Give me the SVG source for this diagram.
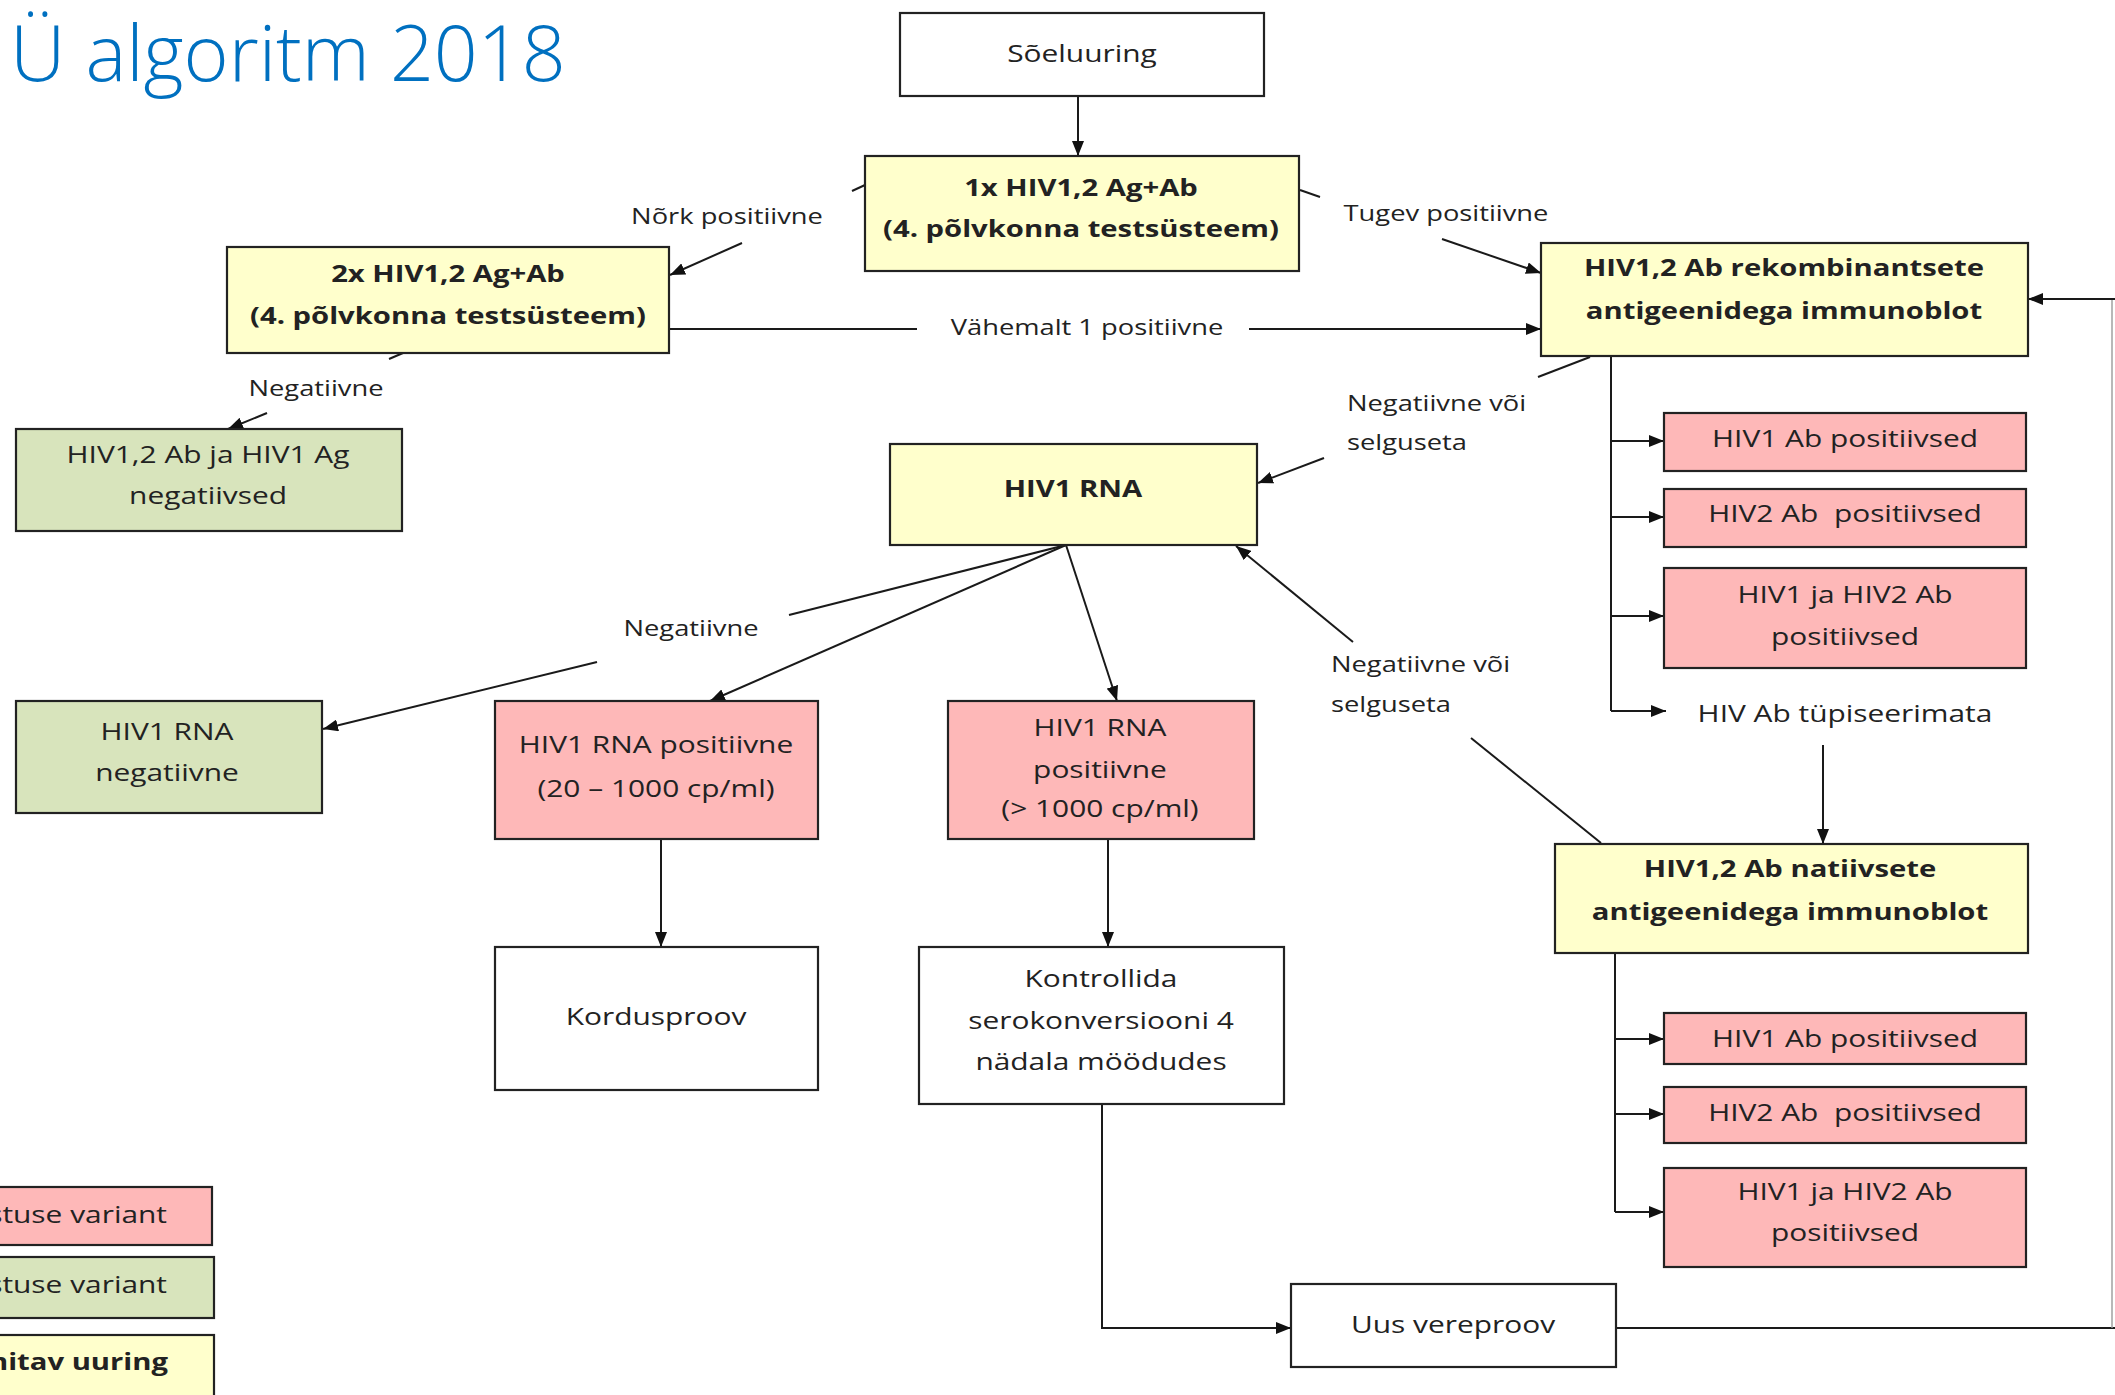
<svg xmlns="http://www.w3.org/2000/svg" width="2115" height="1395" viewBox="0 0 2115 1395">
<defs>
<marker id="ah" markerUnits="userSpaceOnUse" markerWidth="16" markerHeight="12" refX="15" refY="6" orient="auto">
<path d="M0,0 L15,6 L0,12 z" fill="#111"/>
</marker>
<style>
.box{stroke:#222;stroke-width:2.2}
.w{fill:#fff}
.y{fill:#ffffcc}
.p{fill:#feb8b8}
.g{fill:#d8e4bc}
.t{font-family:"Open Sans","Noto Sans","DejaVu Sans",sans-serif;font-size:23px;fill:#222;text-anchor:middle}
.b{font-weight:700;font-size:22.5px}
.l{font-size:21px}
.s{text-anchor:start}
.e{text-anchor:end}
.c{stroke:#1a1a1a;stroke-width:2;fill:none}
.a{marker-end:url(#ah)}
</style>
</defs>
<rect width="2115" height="1395" fill="#fff"/>
<text x="10" y="81" font-family="'Open Sans','Noto Sans',sans-serif" font-weight="300" font-size="77" fill="#0070c0">Ü algoritm 2018</text>

<g id="legend">
<g id="legend-pink"><rect class="box p" x="-10" y="1187" width="222" height="58"/><text class="t e" transform="matrix(1.3 0 0 1 167 0)" y="1223">stuse variant</text></g>
<g id="legend-green"><rect class="box g" x="-10" y="1257" width="224" height="61"/><text class="t e" transform="matrix(1.3 0 0 1 167 0)" y="1293">stuse variant</text></g>
<g id="legend-yellow"><rect class="box y" x="-10" y="1335" width="224" height="70"/><text class="t b e" transform="matrix(1.3 0 0 1 168 0)" y="1370">nitav uuring</text></g>
</g>

<g id="connectors">
<line class="c a" x1="1078" y1="96" x2="1078" y2="156"/>
<line class="c" x1="865" y1="185" x2="852" y2="191"/>
<line class="c a" x1="742" y1="243" x2="670" y2="275"/>
<line class="c" x1="1300" y1="190" x2="1320" y2="197"/>
<line class="c a" x1="1442" y1="239" x2="1541" y2="273"/>
<line class="c" x1="669" y1="329" x2="917" y2="329"/>
<line class="c a" x1="1249" y1="329" x2="1541" y2="329"/>
<line class="c" x1="403" y1="353" x2="389" y2="359"/>
<line class="c a" x1="267" y1="413" x2="228" y2="429"/>
<line class="c" x1="1590" y1="357" x2="1538" y2="377"/>
<line class="c a" x1="1324" y1="458" x2="1258" y2="483"/>
<path class="c" d="M1611,356 V711"/>
<line class="c a" x1="1611" y1="441" x2="1664" y2="441"/>
<line class="c a" x1="1611" y1="517" x2="1664" y2="517"/>
<line class="c a" x1="1611" y1="616" x2="1664" y2="616"/>
<line class="c a" x1="1611" y1="711" x2="1666" y2="711"/>
<line class="c a" x1="1823" y1="745" x2="1823" y2="844"/>
<line class="c" x1="1601" y1="843" x2="1471" y2="738"/>
<line class="c a" x1="1353" y1="642" x2="1236" y2="546"/>
<path class="c" d="M1615,953 V1212"/>
<line class="c a" x1="1615" y1="1039" x2="1664" y2="1039"/>
<line class="c a" x1="1615" y1="1114" x2="1664" y2="1114"/>
<line class="c a" x1="1615" y1="1212" x2="1664" y2="1212"/>
<line class="c" x1="1066" y1="545" x2="789" y2="615"/>
<line class="c a" x1="597" y1="662" x2="323" y2="729"/>
<line class="c a" x1="1066" y1="545" x2="710" y2="701"/>
<line class="c a" x1="1066" y1="545" x2="1117" y2="701"/>
<line class="c a" x1="661" y1="839" x2="661" y2="947"/>
<line class="c a" x1="1108" y1="839" x2="1108" y2="947"/>
<path class="c a" d="M1102,1104 V1328 H1291"/>
<path class="c" d="M1616,1328 H2115"/>
<path d="M2112,1328 V299" stroke="#9a9a9a" stroke-width="1.4" fill="none"/>
<path class="c a" d="M2115,299 H2028"/>
<text class="t l" transform="matrix(1.3 0 0 1 727 0)" y="224">Nõrk positiivne</text>
<text class="t l" transform="matrix(1.3 0 0 1 1446 0)" y="221">Tugev positiivne</text>
<text class="t l" transform="matrix(1.3 0 0 1 1087 0)" y="335">Vähemalt 1 positiivne</text>
<text class="t l" transform="matrix(1.3 0 0 1 316 0)" y="396">Negatiivne</text>
<text class="t l s" transform="matrix(1.3 0 0 1 1347 0)" y="411">Negatiivne või</text>
<text class="t l s" transform="matrix(1.3 0 0 1 1347 0)" y="450">selguseta</text>
<text class="t l s" transform="matrix(1.3 0 0 1 1331 0)" y="672">Negatiivne või</text>
<text class="t l s" transform="matrix(1.3 0 0 1 1331 0)" y="712">selguseta</text>
<text class="t l" transform="matrix(1.3 0 0 1 691 0)" y="636">Negatiivne</text>
</g>

<g id="soeluuring"><rect class="box w" x="900" y="13" width="364" height="83"/><text class="t" transform="matrix(1.3 0 0 1 1082 0)" y="62">Sõeluuring</text></g>
<g id="test1x"><rect class="box y" x="865" y="156" width="434" height="115"/><text class="t b" transform="matrix(1.3 0 0 1 1081 0)" y="196">1x HIV1,2 Ag+Ab</text><text class="t b" transform="matrix(1.3 0 0 1 1081 0)" y="237">(4. põlvkonna testsüsteem)</text></g>
<g id="test2x"><rect class="box y" x="227" y="247" width="442" height="106"/><text class="t b" transform="matrix(1.3 0 0 1 448 0)" y="282">2x HIV1,2 Ag+Ab</text><text class="t b" transform="matrix(1.3 0 0 1 448 0)" y="324">(4. põlvkonna testsüsteem)</text></g>
<g id="rekomb"><rect class="box y" x="1541" y="243" width="487" height="113"/><text class="t b" transform="matrix(1.3 0 0 1 1784 0)" y="276">HIV1,2 Ab rekombinantsete</text><text class="t b" transform="matrix(1.3 0 0 1 1784 0)" y="319">antigeenidega immunoblot</text></g>
<g id="neg1"><rect class="box g" x="16" y="429" width="386" height="102"/><text class="t" transform="matrix(1.3 0 0 1 208 0)" y="463">HIV1,2 Ab ja HIV1 Ag</text><text class="t" transform="matrix(1.3 0 0 1 208 0)" y="504">negatiivsed</text></g>
<g id="rna"><rect class="box y" x="890" y="444" width="367" height="101"/><text class="t b" transform="matrix(1.3 0 0 1 1073 0)" y="497">HIV1 RNA</text></g>
<g id="ib1-hiv1"><rect class="box p" x="1664" y="413" width="362" height="58"/><text class="t" transform="matrix(1.3 0 0 1 1845 0)" y="447">HIV1 Ab positiivsed</text></g>
<g id="ib1-hiv2"><rect class="box p" x="1664" y="489" width="362" height="58"/><text class="t" xml:space="preserve" transform="matrix(1.3 0 0 1 1845 0)" y="522">HIV2 Ab  positiivsed</text></g>
<g id="ib1-both"><rect class="box p" x="1664" y="568" width="362" height="100"/><text class="t" transform="matrix(1.3 0 0 1 1845 0)" y="603">HIV1 ja HIV2 Ab</text><text class="t" transform="matrix(1.3 0 0 1 1845 0)" y="645">positiivsed</text></g>
<g id="untyped"><text class="t" transform="matrix(1.3 0 0 1 1845 0)" y="722">HIV Ab tüpiseerimata</text></g>
<g id="nativ"><rect class="box y" x="1555" y="844" width="473" height="109"/><text class="t b" transform="matrix(1.3 0 0 1 1790 0)" y="877">HIV1,2 Ab natiivsete</text><text class="t b" transform="matrix(1.3 0 0 1 1790 0)" y="920">antigeenidega immunoblot</text></g>
<g id="ib2-hiv1"><rect class="box p" x="1664" y="1013" width="362" height="51"/><text class="t" transform="matrix(1.3 0 0 1 1845 0)" y="1047">HIV1 Ab positiivsed</text></g>
<g id="ib2-hiv2"><rect class="box p" x="1664" y="1087" width="362" height="56"/><text class="t" xml:space="preserve" transform="matrix(1.3 0 0 1 1845 0)" y="1121">HIV2 Ab  positiivsed</text></g>
<g id="ib2-both"><rect class="box p" x="1664" y="1168" width="362" height="99"/><text class="t" transform="matrix(1.3 0 0 1 1845 0)" y="1200">HIV1 ja HIV2 Ab</text><text class="t" transform="matrix(1.3 0 0 1 1845 0)" y="1241">positiivsed</text></g>
<g id="rna-neg"><rect class="box g" x="16" y="701" width="306" height="112"/><text class="t" transform="matrix(1.3 0 0 1 167 0)" y="740">HIV1 RNA</text><text class="t" transform="matrix(1.3 0 0 1 167 0)" y="781">negatiivne</text></g>
<g id="rna-pos-low"><rect class="box p" x="495" y="701" width="323" height="138"/><text class="t" transform="matrix(1.3 0 0 1 656 0)" y="753">HIV1 RNA positiivne</text><text class="t" transform="matrix(1.3 0 0 1 656 0)" y="797">(20 – 1000 cp/ml)</text></g>
<g id="rna-pos-high"><rect class="box p" x="948" y="701" width="306" height="138"/><text class="t" transform="matrix(1.3 0 0 1 1100 0)" y="736">HIV1 RNA</text><text class="t" transform="matrix(1.3 0 0 1 1100 0)" y="778">positiivne</text><text class="t" transform="matrix(1.3 0 0 1 1100 0)" y="817">(&gt; 1000 cp/ml)</text></g>
<g id="kordus"><rect class="box w" x="495" y="947" width="323" height="143"/><text class="t" transform="matrix(1.3 0 0 1 656 0)" y="1025">Kordusproov</text></g>
<g id="kontroll"><rect class="box w" x="919" y="947" width="365" height="157"/><text class="t" transform="matrix(1.3 0 0 1 1101 0)" y="987">Kontrollida</text><text class="t" transform="matrix(1.3 0 0 1 1101 0)" y="1029">serokonversiooni 4</text><text class="t" transform="matrix(1.3 0 0 1 1101 0)" y="1070">nädala möödudes</text></g>
<g id="uus"><rect class="box w" x="1291" y="1284" width="325" height="83"/><text class="t" transform="matrix(1.3 0 0 1 1453 0)" y="1333">Uus vereproov</text></g>
</svg>
